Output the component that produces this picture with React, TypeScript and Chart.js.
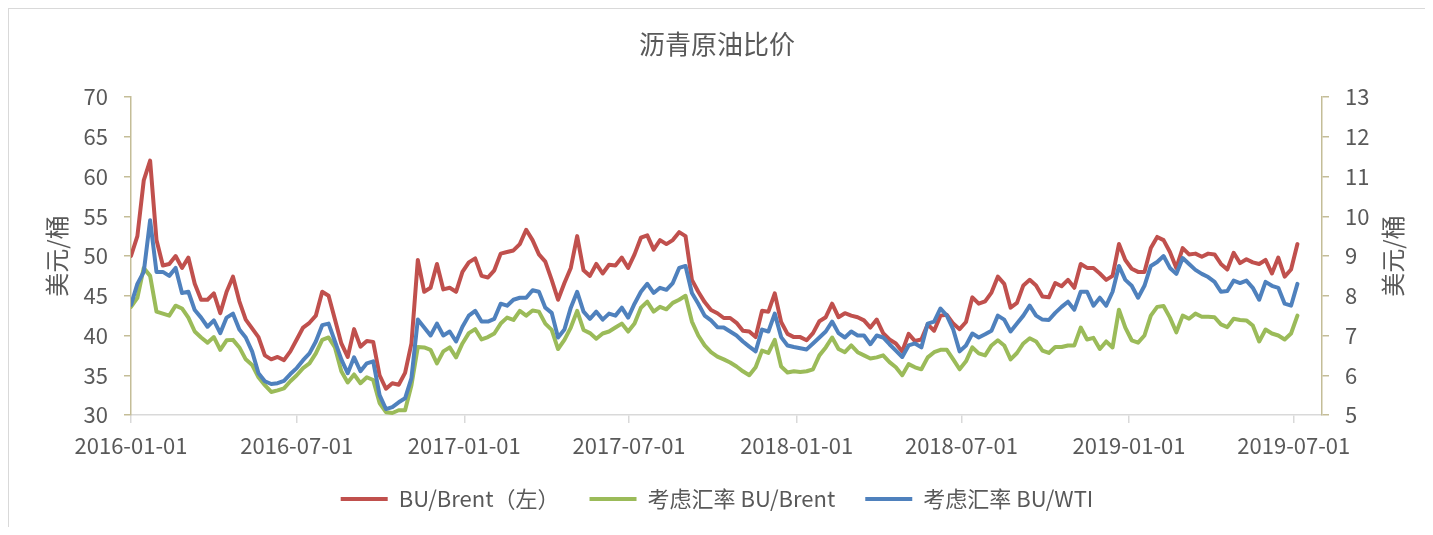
import React, { useEffect, useRef } from "react";
import { Chart, registerables } from "chart.js";

Chart.register(...registerables);

const TITLE = "沥青原油比价";
const Y_AXIS_TITLE = "美元/桶";
const SERIES_NAMES = ["BU/Brent（左）", "考虑汇率 BU/Brent", "考虑汇率 BU/WTI"];
const SERIES_COLORS = ["#C0504D", "#9BBB59", "#4F81BD"];

// weekly observations starting at START_DATE
const START_DATE = "2016-01-01";
const STEP_DAYS = 7;
const X_END_DATE = "2019-08-01";
const X_TICK_LABELS = [
  "2016-01-01", "2016-07-01", "2017-01-01", "2017-07-01",
  "2018-01-01", "2018-07-01", "2019-01-01", "2019-07-01",
];

const LEFT_MIN = 30, LEFT_MAX = 70, LEFT_STEP = 5;
const RIGHT_MIN = 5, RIGHT_MAX = 13, RIGHT_STEP = 1;

// BU/Brent (left axis)
const buBrent = [
  50, 52.5, 59.5, 62, 52, 48.8, 49, 50, 48.5, 49.8,
  46.5, 44.5, 44.5, 45.3, 42.8, 45.5, 47.4, 44.3, 42, 40.9,
  39.8, 37.5, 37, 37.3, 36.9, 38, 39.5, 41, 41.6, 42.5,
  45.5, 45, 42, 39, 37.3, 40.8, 38.6, 39.3, 39.2, 35,
  33.3, 34, 33.8, 35.3, 39, 49.5, 45.5, 46, 49, 45.8,
  46, 45.5, 48, 49.2, 49.7, 47.5, 47.3, 48.2, 50.3, 50.5,
  50.7, 51.5, 53.3, 52, 50.2, 49.3, 47, 44.5, 46.6, 48.5,
  52.5, 48.2, 47.5, 49, 47.8, 48.9, 48.8, 49.8, 48.5, 50.2,
  52.3, 52.6, 50.8, 52, 51.5, 52, 53, 52.5, 47, 45.5,
  44.2, 43.2, 42.8, 42.2, 42.2, 41.6, 40.6, 40.5, 39.8, 43.1,
  43, 45.3, 41.7, 40.2, 39.8, 39.8, 39.4, 40.3, 41.8, 42.3,
  44, 42.3, 42.8, 42.5, 42.3, 41.9, 41, 42, 40.3, 39.5,
  39, 38, 40.2, 39.3, 39.5, 41.4, 40.6, 42.5, 42.6, 41.5,
  40.8, 41.7, 44.8, 44, 44.3, 45.4, 47.4, 46.5, 43.5, 44.1,
  46.3, 47, 46.3, 44.9, 44.8, 46.6, 46.2, 47, 46, 49,
  48.5, 48.5, 47.8, 47, 47.5, 51.5, 49.5, 48.4, 48, 48,
  51, 52.4, 52, 50.5, 48.5, 51, 50.2, 50.3, 49.9, 50.3,
  50.2, 49, 48.3, 50.4, 49.1, 49.6, 49.2, 49, 49.5, 47.8,
  49.8, 47.4, 48.3, 51.5,
];

// 考虑汇率 BU/Brent (right axis)
const buBrentFx = [
  7.72, 7.95, 8.7, 8.5, 7.6, 7.55, 7.5, 7.75, 7.68, 7.45,
  7.1, 6.95, 6.82, 6.96, 6.64, 6.88, 6.89, 6.7, 6.4, 6.26,
  5.95, 5.75, 5.58, 5.62, 5.67, 5.85, 6.0, 6.18, 6.3, 6.55,
  6.89, 6.95, 6.7, 6.1, 5.82, 6.02, 5.8, 5.95, 5.88, 5.3,
  5.07, 5.05, 5.12, 5.12, 5.75, 6.71, 6.7, 6.64, 6.3, 6.6,
  6.7, 6.45, 6.8, 7.06, 7.16, 6.9, 6.96, 7.05, 7.3, 7.45,
  7.39, 7.62, 7.5, 7.63, 7.6, 7.3, 7.14, 6.66, 6.89, 7.2,
  7.62, 7.14, 7.06, 6.92, 7.05, 7.1, 7.2, 7.3, 7.1, 7.3,
  7.7, 7.85, 7.6, 7.72, 7.66, 7.82, 7.9, 8.0, 7.35, 7.0,
  6.75, 6.58, 6.47, 6.4, 6.32, 6.22, 6.1, 6.0, 6.2, 6.62,
  6.56, 6.89, 6.22, 6.07, 6.1, 6.08, 6.1, 6.15, 6.5, 6.7,
  6.95, 6.66, 6.58, 6.75, 6.58, 6.5, 6.42, 6.45, 6.5, 6.33,
  6.2, 6.0, 6.28, 6.2, 6.15, 6.45, 6.58, 6.64, 6.64, 6.4,
  6.15, 6.35, 6.7, 6.55, 6.5, 6.75, 6.88, 6.75, 6.4, 6.56,
  6.8, 6.93, 6.85, 6.62, 6.56, 6.71, 6.71, 6.75, 6.75, 7.2,
  6.9, 6.94, 6.66, 6.85, 6.7, 7.65, 7.2, 6.88, 6.82, 7.0,
  7.5, 7.72, 7.74, 7.45, 7.08, 7.5, 7.42, 7.55, 7.47, 7.47,
  7.46, 7.28, 7.21, 7.42, 7.39, 7.38, 7.25, 6.85, 7.15, 7.05,
  7.0, 6.9, 7.05, 7.5,
];

// 考虑汇率 BU/WTI (right axis)
const buWtiFx = [
  7.77, 8.3, 8.6, 9.9, 8.6, 8.6, 8.5, 8.7, 8.07, 8.1,
  7.64, 7.45, 7.22, 7.38, 7.06, 7.45, 7.55, 7.15, 6.95, 6.6,
  6.05, 5.85, 5.78, 5.8, 5.86, 6.03, 6.18, 6.38, 6.55, 6.85,
  7.26, 7.3, 6.85, 6.4, 6.05, 6.45, 6.1, 6.3, 6.35, 5.5,
  5.15, 5.2, 5.32, 5.42, 5.93, 7.4, 7.2, 7.0, 7.3, 7.0,
  7.1, 6.85, 7.22, 7.5, 7.62, 7.35, 7.35, 7.42, 7.8, 7.75,
  7.9, 7.95, 7.95, 8.14, 8.1, 7.7, 7.57, 6.95, 7.15, 7.7,
  8.1, 7.6, 7.42, 7.6, 7.4, 7.55, 7.5, 7.7, 7.45, 7.8,
  8.1, 8.3, 8.07, 8.2, 8.15, 8.32, 8.7, 8.75, 8.07, 7.8,
  7.5, 7.38, 7.21, 7.2, 7.1, 7.0, 6.85, 6.72, 6.6, 7.15,
  7.1, 7.55, 6.96, 6.75, 6.71, 6.68, 6.65, 6.8, 6.95, 7.1,
  7.35, 7.06, 6.95, 7.1, 7.0, 7.0, 6.78, 7.0, 6.95, 6.78,
  6.62, 6.46, 6.75, 6.8, 6.7, 7.3, 7.35, 7.68, 7.5, 7.15,
  6.6, 6.75, 7.05, 6.95, 7.03, 7.12, 7.5, 7.4, 7.1, 7.3,
  7.5, 7.75, 7.5, 7.4, 7.39, 7.57, 7.72, 7.85, 7.65, 8.1,
  8.1, 7.75, 7.95, 7.75, 8.1, 8.75, 8.4, 8.25, 7.95, 8.25,
  8.75, 8.85, 9.0, 8.7, 8.55, 8.95, 8.8, 8.65, 8.55, 8.47,
  8.35, 8.1, 8.12, 8.38, 8.32, 8.38, 8.2, 7.9, 8.35, 8.25,
  8.2, 7.8, 7.75, 8.3,
];

const DAY_MS = 86400000;
const dayOffset = (d: string) => Math.round((Date.parse(d) - Date.parse(START_DATE)) / DAY_MS);

const FONT = '"Noto Sans CJK SC", "Noto Sans", sans-serif';
const TEXT_COLOR = "#595959";

const axisTitlePlugin = {
  id: "axisTitles",
  afterDraw(chart: any) {
    const { ctx, chartArea } = chart;
    ctx.save();
    ctx.font = `24px ${FONT}`;
    ctx.fillStyle = TEXT_COLOR;
    ctx.textAlign = "center";
    ctx.textBaseline = "middle";
    const cy = (chartArea.top + chartArea.bottom) / 2;
    for (const x of [chartArea.left - 74, chartArea.right + 71]) {
      ctx.save();
      ctx.translate(x, cy);
      ctx.rotate(-Math.PI / 2);
      ctx.fillText(Y_AXIS_TITLE, 0, 0);
      ctx.restore();
    }
    ctx.restore();
  },
};

export default function App() {
  const ref = useRef<HTMLCanvasElement>(null);

  useEffect(() => {
    document.body.style.overflow = "hidden";
    Chart.defaults.font.family = FONT;
    Chart.defaults.color = TEXT_COLOR;

    const xs = buBrent.map((_, i) => i * STEP_DAYS);
    const pts = (arr: number[]) => arr.map((v, i) => ({ x: xs[i], y: v }));
    const tickDays = X_TICK_LABELS.map(dayOffset);
    const labelByDay: Record<number, string> = {};
    X_TICK_LABELS.forEach((l, i) => (labelByDay[tickDays[i]] = l));

    const seriesData = [buBrent, buBrentFx, buWtiFx];
    const axisIds = ["y", "y1", "y1"];
    const orders = [3, 2, 1];

    const chart = new Chart(ref.current as HTMLCanvasElement, {
      type: "line",
      data: {
        datasets: seriesData.map((d, i) => ({
          label: SERIES_NAMES[i],
          data: pts(d),
          yAxisID: axisIds[i],
          borderColor: SERIES_COLORS[i],
          backgroundColor: SERIES_COLORS[i],
          borderWidth: 4,
          borderCapStyle: "round",
          borderJoinStyle: "round",
          pointRadius: 0,
          tension: 0,
          order: orders[i],
        })),
      },
      options: {
        animation: false,
        responsive: false,
        events: [],
        layout: { padding: { left: 0, right: 0, top: 0, bottom: 7 } },
        plugins: {
          title: {
            display: true,
            text: TITLE,
            color: TEXT_COLOR,
            font: { size: 26, weight: "normal", family: FONT },
            padding: { top: 20, bottom: 36.8 },
          },
          legend: {
            position: "bottom",
            labels: {
              usePointStyle: true,
              pointStyle: "line",
              pointStyleWidth: 47,
              padding: 30,
              color: TEXT_COLOR,
              font: { size: 22, family: FONT },
              sort: (a: any, b: any) => a.datasetIndex - b.datasetIndex,
            },
          },
          tooltip: { enabled: false },
        },
        scales: {
          x: {
            type: "linear",
            min: 0,
            max: dayOffset(X_END_DATE),
            afterBuildTicks: (scale: any) => {
              scale.ticks = tickDays.map((v) => ({ value: v }));
            },
            afterFit: (scale: any) => {
              scale.height = 43;
            },
            grid: {
              display: true,
              drawOnChartArea: false,
              drawTicks: true,
              tickLength: 8,
              color: "#D9D9D9",
              lineWidth: 1.5,
            },
            border: { display: true, color: "#D9D9D9", width: 1.5 },
            ticks: {
              autoSkip: false,
              maxRotation: 0,
              padding: 9,
              color: TEXT_COLOR,
              font: { size: 22, family: FONT },
              callback: (v: any) => labelByDay[v] ?? "",
            },
          },
          y: {
            position: "left",
            min: LEFT_MIN,
            max: LEFT_MAX,
            afterFit: (scale: any) => {
              scale.width = 122;
            },
            grid: {
              display: true,
              drawOnChartArea: false,
              drawTicks: true,
              tickLength: 7,
              color: "#C4BD97",
              lineWidth: 1.5,
            },
            border: { display: true, color: "#C4BD97", width: 1.5 },
            ticks: {
              stepSize: LEFT_STEP,
              padding: 16,
              color: TEXT_COLOR,
              font: { size: 22, family: FONT },
            },
          },
          y1: {
            position: "right",
            min: RIGHT_MIN,
            max: RIGHT_MAX,
            afterFit: (scale: any) => {
              scale.width = 103;
            },
            grid: {
              display: true,
              drawOnChartArea: false,
              drawTicks: true,
              tickLength: 7,
              color: "#C4BD97",
              lineWidth: 1.5,
            },
            border: { display: true, color: "#C4BD97", width: 1.5 },
            ticks: {
              stepSize: RIGHT_STEP,
              padding: 16,
              color: TEXT_COLOR,
              font: { size: 22, family: FONT },
            },
          },
        },
      } as any,
      plugins: [axisTitlePlugin],
    });

    return () => chart.destroy();
  }, []);

  return (
    <div
      style={{
        width: 1417,
        height: 519,
        borderLeft: "1px solid #D9D9D9",
        borderTop: "1px solid #D9D9D9",
        boxSizing: "border-box",
        overflow: "hidden",
      }}
    >
      <canvas ref={ref} width={1416} height={518} style={{ display: "block" }} />
    </div>
  );
}
